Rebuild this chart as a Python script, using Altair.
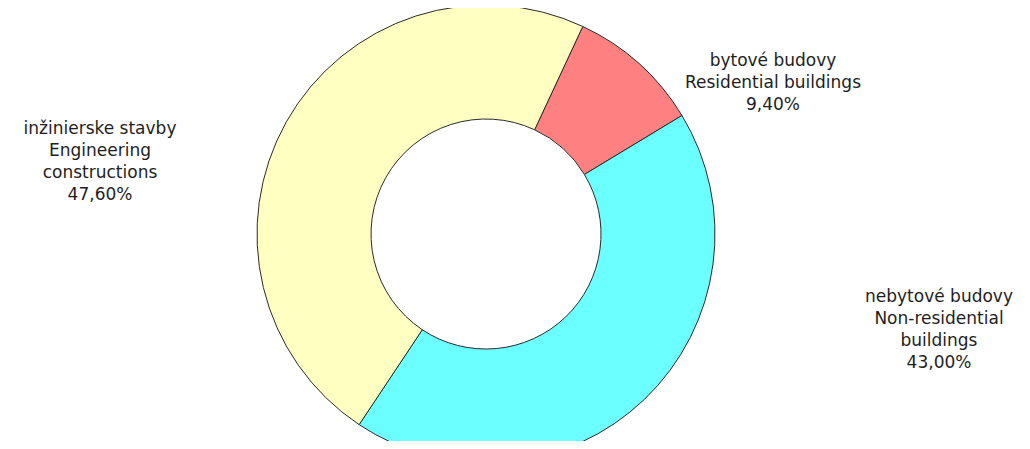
import math
import altair as alt
import pandas as pd

# --- data ---
names_sk = ["bytové budovy", "nebytové budovy", "inžinierske stavby"]
names_en = ["Residential buildings", "Non-residential\nbuildings", "Engineering\nconstructions"]
shares = [9.40, 43.00, 47.60]
colors = ["#FF8080", "#6BFFFF", "#FFFFC2"]

labels = [
    f"{sk}\n{en}\n{v:.2f}%".replace(".", ",")
    for sk, en, v in zip(names_sk, names_en, shares)
]

df = pd.DataFrame({
    "name": names_sk,
    "share": shares,
    "order": list(range(len(shares))),
    "label": labels,
})

W, H = 1014, 433
cx, cy = 478, 226
outer_r, inner_r = 229, 115
start = math.radians(25)

color_scale = alt.Scale(domain=names_sk, range=colors)

donut = alt.Chart(df).mark_arc(
    outerRadius=outer_r, innerRadius=inner_r,
    stroke="#2a2a2a", strokeWidth=1,
).encode(
    theta=alt.Theta("share:Q", stack=True,
                    scale=alt.Scale(range=[start, start + 2 * math.pi])),
    order=alt.Order("order:O"),
    color=alt.Color("name:N", scale=color_scale, legend=None),
    x=alt.value(cx),
    y=alt.value(cy),
)

label_pos = {
    "bytové budovy": (765, 53),
    "nebytové budovy": (931, 289),
    "inžinierske stavby": (92, 121),
}

text_layers = []
for name, (lx, ly) in label_pos.items():
    t = alt.Chart(df).transform_filter(
        alt.datum.name == name
    ).mark_text(
        font="DejaVu Sans", fontSize=17, color="#1e1e1e",
        align="center", baseline="middle", lineBreak="\n", lineHeight=22,
    ).encode(
        text="label:N",
        x=alt.value(lx),
        y=alt.value(ly),
    )
    text_layers.append(t)

chart = alt.layer(donut, *text_layers).properties(
    width=W, height=H,
    autosize=alt.AutoSizeParams(type="none"),
    padding=0,
).configure(
    background="white",
    view=alt.ViewConfig(stroke=None),
)

chart.save("out.html", embed_options={"renderer": "svg", "actions": False})
